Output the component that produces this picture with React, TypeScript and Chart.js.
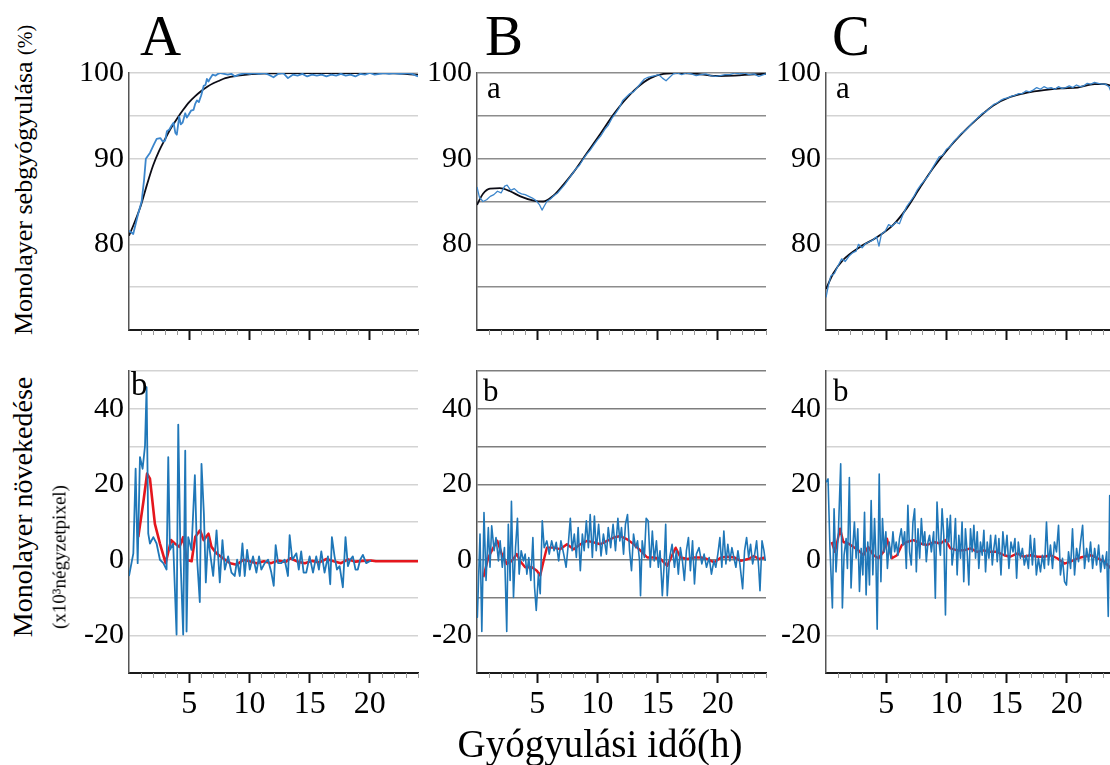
import React, { useEffect, useRef } from 'react';
import { Chart, registerables } from 'chart.js';

Chart.register(...registerables);

const SERIF = '"Liberation Serif", "Times New Roman", serif';

// ---------- axes ----------
const X_MIN = 0;
const X_MAX = 24;
const X_TICK_LABELS = [5, 10, 15, 20];
const X_MINOR_TICKS = [1, 2, 3, 4, 6, 7, 8, 9, 11, 12, 13, 14, 16, 17, 18, 19, 21, 22, 23, 24];
const TOP_Y_LABELS = [80, 90, 100];
const BOTTOM_Y_LABELS = [40, 20, 0, -20];

// ---------- A: top (wound closure %) ----------
const A_TOP_BLUE: [number, number][] = [
  [0, 81.6], [0.35, 81.2], [0.75, 83.5], [1.05, 85.0], [1.25, 87.5], [1.4, 90.0], [1.75, 90.7], [2.05, 91.6],
  [2.3, 92.3], [2.6, 92.4], [2.8, 92.0], [3.0, 92.1], [3.15, 93.2], [3.35, 93.4], [3.55, 93.9], [3.7, 94.2],
  [3.85, 93.0], [3.97, 92.8], [4.17, 94.9], [4.3, 94.0], [4.45, 94.2], [4.67, 95.3], [4.8, 94.8], [4.94, 95.1],
  [5.15, 95.6], [5.36, 95.7], [5.5, 96.4], [5.64, 96.8], [5.8, 96.6], [6.0, 97.4], [6.2, 98.5], [6.35, 98.6],
  [6.47, 99.3], [6.6, 99.0], [6.75, 99.4], [6.94, 99.8], [7.2, 99.7], [7.4, 99.9], [7.6, 100], [7.9, 99.9],
  [8.2, 99.8], [8.5, 99.9], [8.8, 99.6], [9.1, 99.8], [9.4, 99.9], [9.7, 100], [10.0, 99.9], [10.4, 100],
  [10.8, 99.9], [11.2, 100], [11.6, 99.8], [12.0, 99.5], [12.4, 99.9], [12.8, 100], [13.2, 99.4], [13.6, 99.8],
  [14.0, 99.7], [14.4, 99.9], [14.8, 99.6], [15.2, 99.8], [15.6, 99.7], [16.0, 99.8], [16.4, 99.6], [16.8, 99.8],
  [17.2, 99.7], [17.6, 99.9], [18.0, 99.7], [18.4, 99.8], [18.8, 99.6], [19.2, 99.9], [19.6, 99.8], [20.0, 100],
  [20.4, 99.8], [20.8, 99.9], [21.2, 100], [21.6, 99.9], [22.0, 100], [22.5, 99.9], [23.0, 100], [23.5, 99.9], [24.0, 99.6],
];
const A_TOP_FIT: [number, number][] = [
  [0, 81.0], [0.5, 82.7], [1, 84.6], [1.5, 87.0], [2, 89.2], [2.5, 90.9], [3, 92.3], [3.5, 93.6], [4, 94.7],
  [4.5, 95.7], [5, 96.6], [5.5, 97.3], [6, 97.9], [6.5, 98.4], [7, 98.8], [7.5, 99.1], [8, 99.4], [9, 99.7],
  [10, 99.85], [11, 99.92], [12, 99.95], [14, 99.98], [16, 100], [20, 100], [22, 99.95], [24, 99.8],
];

// ---------- A: bottom (growth) ----------
const A_BOTTOM_BLUE: [number, number][] = [
  [0, -4.3], [0.36, 1.7], [0.55, 24.1], [0.72, -0.9], [0.91, 27.2], [1.13, 24.1], [1.33, 30.2], [1.46, 45.7],
  [1.6, 6.9], [1.74, 4.3], [2.02, 6.0], [2.29, 4.3], [2.57, 0], [2.85, -0.9], [3.12, -2.6], [3.26, 27.2],
  [3.4, 2.6], [3.67, 4.3], [3.95, -19.8], [4.09, 35.8], [4.28, 0], [4.5, -19.8], [4.67, 28.9], [4.78, -19],
  [4.92, 6], [5.19, 2.6], [5.47, 22.4], [5.66, 0], [5.88, -11.2], [6.02, 25.4], [6.22, 12.1], [6.38, -6],
  [6.57, 6], [6.77, 0.9], [6.99, -4.3], [7.27, 7.8], [7.54, -6], [7.76, 5.2], [7.96, -2.6], [8.23, 0.9],
  [8.51, -3.4], [8.78, -4.3], [8.98, 0], [9.2, -4.3], [9.42, 4.3], [9.61, -4.3], [9.81, 2.6], [10.03, -2.6],
  [10.3, 0.9], [10.58, -3.4], [10.8, 0.9], [10.99, -2.6], [11.27, -0.9], [11.55, 0], [11.82, -3.4], [12.02, -6.9],
  [12.18, 3.9], [12.38, -0.9], [12.65, -0.9], [12.93, 0], [13.2, -4.3], [13.34, 6.5], [13.56, 0], [13.9, 1.7],
  [14.1, -2.6], [14.3, 2.2], [14.5, -3.4], [14.72, -3.4], [15.0, 0.9], [15.28, -3.4], [15.55, 0.9], [15.77, -2.6],
  [15.97, 2.2], [16.24, -3.4], [16.52, 0.9], [16.71, -6.5], [16.85, 6], [17.07, 0.9], [17.27, -2.6], [17.49, -1.7],
  [17.76, -7.3], [17.98, 6], [18.18, -1.7], [18.37, 0], [18.59, 0.9], [18.81, -2.6], [19.0, -2.6], [19.2, 0],
  [19.42, 1.3], [19.7, -0.9], [20.1, -0.2],
];
const A_BOTTOM_RED: [number, number][] = [
  [0.77, 6.0], [1.2, 15.5], [1.5, 22.8], [1.74, 21.5], [2.15, 9.5], [2.57, 4.3], [3.04, -0.9], [3.5, 5.2],
  [3.8, 4.3], [4.2, 3.4], [4.5, 6.0], [4.78, 0], [5.2, -0.4], [5.5, 6.0], [5.9, 7.8], [6.2, 5.2], [6.6, 6.9],
  [6.85, 3.4], [7.26, 1.7], [7.8, 0.4], [8.4, -0.9], [8.95, -1.3], [9.5, 0], [10.0, -0.4], [10.6, -0.9],
  [11.2, -0.4], [11.8, -0.9], [12.4, -0.2], [13.0, -0.6], [13.4, 0.4], [14.0, -0.5], [14.6, -0.9], [15.2, -0.3],
  [15.8, -0.7], [16.4, 0.2], [17.0, -0.4], [17.6, -0.9], [18.2, 0.1], [18.8, -0.5], [19.4, -0.3], [20.1, -0.2],
  [20.5, -0.4], [24.0, -0.4],
];

// ---------- B: top ----------
const B_TOP_BLUE: [number, number][] = [
  [0, 86.7], [0.2, 85.5], [0.5, 85.0], [0.8, 85.2], [1.1, 85.6], [1.4, 85.8], [1.7, 86.2], [2.0, 86.0],
  [2.3, 86.8], [2.5, 86.9], [2.8, 86.3], [3.1, 86.5], [3.4, 86.1], [3.7, 85.9], [4.0, 85.8], [4.3, 85.6],
  [4.6, 85.4], [4.9, 85.1], [5.2, 84.6], [5.4, 84.0], [5.6, 84.5], [5.8, 85.0], [6.1, 85.3], [6.4, 85.7],
  [6.7, 86.0], [7.0, 86.5], [7.3, 87.0], [7.6, 87.6], [7.9, 88.2], [8.2, 88.8], [8.5, 89.2], [8.8, 89.9],
  [9.1, 90.5], [9.4, 91.0], [9.7, 91.6], [10.0, 92.2], [10.3, 92.7], [10.6, 93.4], [10.9, 93.9], [11.2, 94.7],
  [11.5, 95.3], [11.8, 95.9], [12.1, 96.8], [12.4, 97.2], [12.7, 97.6], [13.0, 97.8], [13.3, 98.3], [13.6, 98.8],
  [13.9, 99.3], [14.2, 99.5], [14.5, 99.6], [14.8, 99.7], [15.1, 99.8], [15.4, 99.4], [15.7, 99.1], [16.0, 99.5],
  [16.3, 99.9], [16.6, 100], [17.0, 99.8], [17.4, 100], [17.8, 99.9], [18.2, 99.7], [18.6, 99.8], [19.0, 99.9],
  [19.4, 99.7], [19.8, 99.6], [20.2, 99.7], [20.6, 99.8], [21.0, 99.8], [21.4, 100], [21.8, 99.9], [22.2, 100],
  [22.6, 99.8], [23.0, 99.9], [23.4, 99.6], [23.8, 99.8], [24, 99.9],
];
const B_TOP_FIT: [number, number][] = [
  [0, 84.6], [0.5, 85.9], [1.08, 86.5], [1.9, 86.55], [2.75, 86.2], [3.6, 85.6], [4.7, 85.1], [5.5, 85.0],
  [6.36, 85.7], [7.2, 87.0], [8.0, 88.4], [9.1, 90.6], [10.25, 92.9], [11.36, 95.2], [12.2, 96.7], [13.3, 98.3],
  [14.4, 99.4], [15.5, 99.9], [16.9, 100], [18.6, 99.85], [20, 99.65], [21.4, 99.7], [23, 99.85], [24, 99.9],
];

// ---------- B: bottom ----------
const B_BOTTOM_BLUE: [number, number][] = [
  [0, -14], [0.03, -15.2], [0.25, 6.8], [0.4, -19], [0.58, 12.5], [0.75, -5.5], [0.94, 8.5], [1.08, -2],
  [1.22, 9], [1.42, 2.4], [1.58, 5.9], [1.78, -0.3], [1.92, 5], [2.1, -2], [2.28, 3.2], [2.47, -19],
  [2.6, 9.4], [2.75, -5.5], [2.86, 15.5], [3.03, -10], [3.2, 3.2], [3.36, 11], [3.5, -3.8], [3.67, 2.4],
  [3.86, -0.3], [4.0, 1.5], [4.14, -3.8], [4.3, 0.6], [4.47, -5.5], [4.64, 5.9], [4.78, -7.3], [4.92, -13.4],
  [5.1, -3.8], [5.25, -9], [5.42, 10.3], [5.58, 3.2], [5.8, 5], [6.0, 1.5], [6.2, 5], [6.4, 2.4],
  [6.58, 4.6], [6.78, -0.3], [6.97, 5], [7.2, 1.5], [7.4, -2], [7.58, 4.1], [7.75, 11], [7.9, 2.4],
  [8.08, 6.8], [8.25, 0.6], [8.4, 8.5], [8.58, -2.9], [8.75, 6.8], [8.9, 2.4], [9.08, 10.3], [9.25, 3.2],
  [9.4, 12], [9.58, 0.6], [9.75, 11.6], [9.9, 2.4], [10.1, 9.4], [10.3, 1], [10.5, 6.8], [10.75, 1.5],
  [10.9, 8.5], [11.1, 3.2], [11.3, 9.4], [11.5, 2.4], [11.7, 11], [11.86, 5], [12.0, 8.5], [12.17, 1.5],
  [12.33, 9.4], [12.5, 12], [12.67, 2.4], [12.83, -2.9], [13.0, 6.8], [13.17, 3.2], [13.33, 5], [13.5, -0.3],
  [13.58, -9.5], [13.72, 5], [13.9, 0.6], [14.05, 11], [14.22, 10.3], [14.39, -2], [14.56, 7.6], [14.72, -0.3],
  [14.9, 5], [15.06, -2], [15.2, 2.4], [15.39, -9.5], [15.53, -2], [15.67, 9.4], [15.8, -9.5], [16.0, 0.6],
  [16.2, 4.1], [16.4, -2], [16.56, 2.4], [16.72, -3.8], [16.89, 3.2], [17.06, -0.3], [17.22, -5.5], [17.39, 2.4],
  [17.56, 5.9], [17.72, -2.9], [17.9, 5], [18.06, -6.4], [18.22, 1.5], [18.44, 3.2], [18.67, -1.1], [18.86, 1.5],
  [19.06, -2], [19.28, 0.6], [19.47, -3.8], [19.67, -0.3], [19.83, -2], [20.0, 1.5], [20.17, 5.9], [20.33, -2],
  [20.5, 7.6], [20.67, -1.1], [20.83, 4.1], [21.0, -0.3], [21.17, 3.2], [21.33, 0.6], [21.5, -2], [21.67, 2.4],
  [21.83, -1.1], [22.06, -7.7], [22.22, 2.4], [22.39, 5.9], [22.56, 0.6], [22.72, 4.1], [22.89, -1.1], [23.06, 1.5],
  [23.22, 5], [23.39, -2], [23.5, -8.2], [23.67, 5], [23.83, 2.4], [23.94, -0.3],
];
const B_BOTTOM_RED: [number, number][] = [
  [0.53, -4.6], [0.94, 0.6], [1.36, 3.2], [1.69, 5], [2.06, 1.5], [2.47, -1.1], [2.89, -0.3], [3.3, 1.5],
  [3.58, -0.3], [4.0, -2], [4.56, -2], [4.97, -2.9], [5.25, -4.2], [5.53, -0.3], [5.8, 3.2], [6.36, 3.2],
  [6.9, 2.8], [7.47, 4.1], [8.03, 2.8], [8.58, 4.1], [9.14, 5], [9.7, 4.6], [10.25, 4.1], [10.8, 5],
  [11.36, 5.9], [11.9, 6.3], [12.47, 5.4], [13.03, 4.1], [13.58, 2.4], [14.14, 0.6], [14.7, 0.6], [15.25, 0.2],
  [15.8, -1.6], [16.5, 3.2], [16.9, 0.6], [17.5, 0.2], [18.0, 0.6], [18.6, 0.6], [19.1, 0.2], [19.7, -0.7],
  [20.25, 0.6], [20.8, 0.8], [21.4, 0.6], [21.9, -0.3], [22.5, 0.2], [23.0, 1.0], [23.4, 0.2], [23.9, 0.6],
];

// ---------- C: top ----------
const C_TOP_BLUE: [number, number][] = [
  [0, 73.8], [0.2, 75.2], [0.4, 76.3], [0.7, 76.6], [1.0, 77.5], [1.3, 78.3], [1.6, 78.0], [1.9, 78.6],
  [2.2, 79.0], [2.5, 79.2], [2.7, 80.0], [3.0, 79.6], [3.3, 80.1], [3.6, 80.3], [3.9, 80.5], [4.2, 80.9],
  [4.4, 79.8], [4.6, 81.2], [4.9, 81.5], [5.2, 82.3], [5.5, 82.1], [5.8, 82.6], [6.1, 82.4], [6.4, 83.5],
  [6.7, 84.4], [7.0, 85.0], [7.3, 85.6], [7.6, 86.4], [7.9, 87.0], [8.2, 87.5], [8.5, 88.0], [8.8, 88.8],
  [9.1, 89.5], [9.4, 90.2], [9.7, 90.4], [10.0, 91.1], [10.3, 91.4], [10.6, 92.0], [10.9, 92.4], [11.2, 92.9],
  [11.5, 93.2], [11.8, 93.6], [12.1, 94.1], [12.4, 94.5], [12.7, 94.9], [13.0, 95.3], [13.3, 95.5], [13.6, 95.9],
  [13.9, 96.3], [14.2, 96.5], [14.5, 96.8], [14.8, 97.0], [15.1, 97.1], [15.4, 97.3], [15.7, 97.4], [16.0, 97.6],
  [16.3, 97.6], [16.6, 97.9], [16.9, 97.8], [17.2, 98.0], [17.5, 98.3], [17.8, 98.1], [18.1, 98.4], [18.4, 98.2],
  [18.7, 98.3], [19.0, 98.1], [19.3, 98.4], [19.6, 98.2], [19.9, 98.3], [20.2, 98.5], [20.5, 98.3], [20.8, 98.6],
  [21.1, 98.4], [21.4, 98.5], [21.7, 98.8], [22.0, 98.7], [22.3, 98.9], [22.6, 98.8], [22.9, 98.7], [23.2, 98.7],
  [23.5, 98.4], [23.7, 97.7],
];
const C_TOP_FIT: [number, number][] = [
  [0, 74.8], [0.6, 76.6], [1.44, 78.2], [2.83, 79.7], [4.2, 80.8], [5.6, 82.3], [6.7, 84.2], [7.8, 86.6],
  [8.9, 88.9], [10.05, 91.0], [11.2, 92.8], [12.6, 94.7], [13.9, 96.2], [15.3, 97.2], [16.7, 97.7], [18.1, 98.0],
  [19.5, 98.2], [20.9, 98.3], [22.3, 98.7], [23.1, 98.7], [23.7, 98.5],
];

// ---------- C: bottom ----------
const C_BOTTOM_BLUE: [number, number][] = [
  [0, 20.5], [0.17, 21.4], [0.33, 3], [0.53, -12.8], [0.67, 13.5], [0.83, -3.2], [1.03, 7.4], [1.22, 25.4],
  [1.36, -12.8], [1.5, 1.2], [1.67, 5.6], [1.78, -2.3], [1.94, 21.8], [2.08, -7.5], [2.22, 3], [2.36, 10],
  [2.5, 0.4], [2.64, 8.2], [2.78, -8.4], [2.92, 3], [3.06, -4], [3.2, 12.6], [3.33, -9.3], [3.47, 4.7],
  [3.61, -6.7], [3.75, 15.7], [3.89, -4], [4.03, 10.9], [4.14, 1.2], [4.25, -18.4], [4.42, 22.7], [4.56, -5.8],
  [4.69, 10.9], [4.83, 2.1], [4.97, 7.4], [5.1, -2.3], [5.25, 4.7], [5.39, 0.4], [5.56, 7.4], [5.7, 2.1],
  [5.83, 4.7], [5.97, 1.2], [6.1, 5.6], [6.25, 8.2], [6.39, 3.9], [6.53, 7.4], [6.67, -2.3], [6.8, 14.4],
  [6.94, 2.1], [7.08, -1.4], [7.22, 10], [7.36, 13.5], [7.5, -3.2], [7.64, 8.2], [7.78, 0.4], [7.92, 10.9],
  [8.06, 3.9], [8.2, 7.4], [8.33, -0.5], [8.47, 4.7], [8.6, 6.5], [8.75, 2.1], [8.94, 7.4], [9.08, -10.2],
  [9.22, 15.3], [9.36, 5.6], [9.5, 1.2], [9.64, 13.5], [9.78, 6.5], [9.92, -14.6], [10.06, 10.9], [10.2, 4.7],
  [10.33, 11.8], [10.47, -1.4], [10.6, 2.1], [10.75, 10.9], [10.89, -4], [11.03, 6.5], [11.17, 0.4], [11.3, 10],
  [11.44, -5.8], [11.58, 8.2], [11.72, 2.1], [11.86, -6.7], [12.0, 8.2], [12.14, 2.1], [12.28, 9.1], [12.42, 0.4],
  [12.56, 7.4], [12.69, -2.3], [12.83, 4.7], [12.97, 1.2], [13.11, 7.8], [13.25, -3.2], [13.39, 4.7], [13.53, 0.4],
  [13.67, 6.5], [13.81, -1.4], [13.94, 3], [14.08, 6.5], [14.22, -0.5], [14.36, 5.6], [14.53, -4], [14.69, 7.4],
  [14.86, 1.2], [15.03, 6.5], [15.19, -2.3], [15.36, 4.7], [15.53, 2.1], [15.69, 5.6], [15.83, -4.9], [15.97, 4.7],
  [16.14, 0.4], [16.31, 3], [16.47, -1.4], [16.64, 1.2], [16.81, -2.3], [16.97, 6.5], [17.14, -1.4], [17.31, 5.6],
  [17.47, -4], [17.64, 0.4], [17.81, -3.2], [17.97, 1.2], [18.14, -2.3], [18.31, 10], [18.47, -1.4], [18.64, 3.9],
  [18.81, -2.3], [18.97, 4.7], [19.14, 2.1], [19.31, 9.1], [19.47, -4], [19.64, 0.4], [19.81, -5.8], [19.97, -6.7],
  [20.14, 2.1], [20.31, -2.3], [20.47, 8.2], [20.64, -4], [20.81, 3], [20.97, -0.5], [21.14, 4.7], [21.31, 9.1],
  [21.47, -2.3], [21.64, 3], [21.81, -0.5], [21.97, 4.7], [22.14, -2.3], [22.31, 3], [22.47, -1.4], [22.64, 3.9],
  [22.81, -3.2], [22.97, 1.2], [23.14, -2.3], [23.31, 2.1], [23.44, -15], [23.56, 17], [23.67, 4.7],
];
const C_BOTTOM_RED: [number, number][] = [
  [0.47, 4.7], [0.75, 2.1], [1.17, 8.2], [1.44, 4.7], [1.86, 4.3], [2.28, 3.4], [2.7, 2.5], [3.1, 1.2],
  [3.5, 3.4], [3.94, 1.2], [4.36, 0.4], [4.78, 2.1], [5.06, 5.6], [5.47, 0.4], [5.9, 1.2], [6.3, 3.9],
  [6.7, 4.7], [7.28, 5.2], [7.83, 4.3], [8.4, 3.9], [8.94, 4.7], [9.5, 4.3], [9.92, 5.2], [10.33, 3],
  [10.9, 2.5], [11.44, 2.5], [12.0, 3], [12.56, 2.1], [13.1, 2.5], [13.67, 2.1], [14.2, 2.1], [14.8, 1.2],
  [15.3, 0.8], [15.9, 1.7], [16.4, 0.8], [17.0, 1.2], [17.56, 0.8], [18.1, 0.8], [18.67, 1.2], [19.2, 0.4],
  [19.8, -1], [20.3, -0.5], [20.9, 0.4], [21.4, 0.8], [22.0, 1.2], [22.56, 0.4], [23.1, -0.5], [23.67, -2.3],
];

// ---------- colours ----------
const BLUE = '#1f77b8';
const BLUE_TOP = '#3c86cc';
const RED = '#e5161d';
const BLACK = '#0c0c16';

type Series = { pts: [number, number][]; color: string; width: number; smooth?: boolean };
type PanelDef = {
  key: string;
  areaLeft: number;
  areaTop: number;
  areaH: number;
  yMin: number;
  yMax: number;
  yStep: number;
  yLabels: number[];
  grid: string;
  xLabels: boolean;
  series: Series[];
};

const AREA_W = 289;
const YW = 70;
const PT = 20;
const PR = 12;

const minorTicksPlugin = {
  id: 'minorTicks',
  afterDraw(chart: any) {
    const sx = chart.scales.x;
    const ctx = chart.ctx;
    ctx.save();
    ctx.strokeStyle = '#9a9a9a';
    ctx.lineWidth = 1;
    for (const v of X_MINOR_TICKS) {
      const px = Math.round(sx.getPixelForValue(v)) + 0.5;
      ctx.beginPath();
      ctx.moveTo(px, sx.top);
      ctx.lineTo(px, sx.top + 5);
      ctx.stroke();
    }
    ctx.restore();
  },
};

const PANELS: PanelDef[] = [
  {
    key: 'At', areaLeft: 129, areaTop: 70, areaH: 261, yMin: 70, yMax: 100, yStep: 5, yLabels: TOP_Y_LABELS,
    grid: '#d3d3d3', xLabels: false,
    series: [
      { pts: A_TOP_BLUE, color: BLUE_TOP, width: 1.8 },
      { pts: A_TOP_FIT, color: BLACK, width: 1.8, smooth: true },
    ],
  },
  {
    key: 'Ab', areaLeft: 129, areaTop: 368, areaH: 305, yMin: -30, yMax: 50, yStep: 10, yLabels: BOTTOM_Y_LABELS,
    grid: '#d3d3d3', xLabels: true,
    series: [
      { pts: A_BOTTOM_BLUE, color: BLUE, width: 1.8 },
      { pts: A_BOTTOM_RED, color: RED, width: 2.6 },
    ],
  },
  {
    key: 'Bt', areaLeft: 477, areaTop: 70, areaH: 261, yMin: 70, yMax: 100, yStep: 5, yLabels: TOP_Y_LABELS,
    grid: '#8c8c8c', xLabels: false,
    series: [
      { pts: B_TOP_BLUE, color: BLUE_TOP, width: 1.3 },
      { pts: B_TOP_FIT, color: BLACK, width: 1.8, smooth: true },
    ],
  },
  {
    key: 'Bb', areaLeft: 477, areaTop: 368, areaH: 305, yMin: -30, yMax: 50, yStep: 10, yLabels: BOTTOM_Y_LABELS,
    grid: '#7e7e7e', xLabels: true,
    series: [
      { pts: B_BOTTOM_BLUE, color: BLUE, width: 1.6 },
      { pts: B_BOTTOM_RED, color: RED, width: 2.4 },
    ],
  },
  {
    key: 'Ct', areaLeft: 826, areaTop: 70, areaH: 261, yMin: 70, yMax: 100, yStep: 5, yLabels: TOP_Y_LABELS,
    grid: '#d3d3d3', xLabels: false,
    series: [
      { pts: C_TOP_BLUE, color: BLUE_TOP, width: 1.3 },
      { pts: C_TOP_FIT, color: BLACK, width: 1.8, smooth: true },
    ],
  },
  {
    key: 'Cb', areaLeft: 826, areaTop: 368, areaH: 305, yMin: -30, yMax: 50, yStep: 10, yLabels: BOTTOM_Y_LABELS,
    grid: '#d3d3d3', xLabels: true,
    series: [
      { pts: C_BOTTOM_BLUE, color: BLUE, width: 1.6 },
      { pts: C_BOTTOM_RED, color: RED, width: 2.4 },
    ],
  },
];

function Panel({ def }: { def: PanelDef }) {
  const ref = useRef<HTMLCanvasElement>(null);
  const xh = def.xLabels ? 62 : 22;
  const cw = YW + AREA_W + PR;
  const ch = PT + def.areaH + xh;

  useEffect(() => {
    if (!ref.current) return;
    const chart = new Chart(ref.current, {
      type: 'line',
      data: {
        datasets: def.series.map((s) => ({
          data: s.pts.map(([x, y]) => ({ x, y })),
          borderColor: s.color,
          backgroundColor: s.color,
          borderWidth: s.width,
          pointRadius: 0,
          fill: false,
          tension: 0,
          cubicInterpolationMode: s.smooth ? 'monotone' : 'default',
          borderJoinStyle: 'round',
        })),
      } as any,
      options: {
        animation: false,
        responsive: false,
        maintainAspectRatio: false,
        events: [],
        layout: { padding: { top: PT, right: PR, left: 0, bottom: 0 } },
        plugins: { legend: { display: false }, tooltip: { enabled: false } },
        scales: {
          x: {
            type: 'linear',
            min: X_MIN,
            max: X_MAX,
            ticks: {
              stepSize: 1,
              autoSkip: false,
              maxRotation: 0,
              minRotation: 0,
              padding: 2,
              color: '#000',
              font: { family: SERIF, size: 32 },
              callback: (v: any) => (def.xLabels && X_TICK_LABELS.includes(Number(v)) ? String(v) : ''),
            },
            grid: {
              drawOnChartArea: false,
              drawTicks: true,
              tickLength: 10,
              color: '#222',
              tickColor: (c: any) => {
                const v = c.tick ? c.tick.value : 0;
                return v > 0 && v % 5 === 0 ? '#111' : 'rgba(0,0,0,0)';
              },
              tickWidth: 2,
            },
            border: { display: true, color: '#1a1a1a', width: 2 },
            afterFit: (s: any) => {
              s.height = xh;
            },
          },
          y: {
            type: 'linear',
            min: def.yMin,
            max: def.yMax,
            ticks: {
              stepSize: def.yStep,
              autoSkip: false,
              padding: 5,
              color: '#000',
              font: { family: SERIF, size: 30 },
              callback: (v: any) => (def.yLabels.includes(Number(v)) ? String(v) : ''),
            },
            grid: { color: def.grid, lineWidth: 1.5, drawTicks: false },
            border: { display: true, color: '#555', width: 1.5 },
            afterFit: (s: any) => {
              s.width = YW;
            },
          },
        },
      } as any,
      plugins: [minorTicksPlugin],
    });
    return () => chart.destroy();
  }, []);

  return (
    <canvas
      ref={ref}
      width={cw}
      height={ch}
      style={{ position: 'absolute', left: def.areaLeft - YW, top: def.areaTop - PT, width: cw, height: ch }}
    />
  );
}

const txt = (size: number): React.CSSProperties => ({
  position: 'absolute',
  fontFamily: SERIF,
  fontSize: size,
  lineHeight: 1,
  color: '#000',
  whiteSpace: 'nowrap',
});

const rot = (cx: number, cy: number, size: number): React.CSSProperties => ({
  ...txt(size),
  left: cx,
  top: cy,
  transform: 'translate(-50%, -50%) rotate(-90deg)',
});

export default function App() {
  return (
    <div
      style={{
        position: 'fixed',
        left: 0,
        top: 0,
        width: 1110,
        height: 765,
        overflow: 'hidden',
        background: '#fff',
      }}
    >
      {PANELS.map((p) => (
        <Panel key={p.key} def={p} />
      ))}

      <div style={{ ...txt(57), left: 140, top: 7 }}>A</div>
      <div style={{ ...txt(57), left: 485, top: 7 }}>B</div>
      <div style={{ ...txt(57), left: 832, top: 7 }}>C</div>

      <div style={{ ...txt(31), left: 487, top: 72 }}>a</div>
      <div style={{ ...txt(31), left: 836, top: 72 }}>a</div>
      <div style={{ ...txt(33), left: 131, top: 368 }}>b</div>
      <div style={{ ...txt(31), left: 483, top: 375 }}>b</div>
      <div style={{ ...txt(31), left: 833, top: 375 }}>b</div>

      <div style={rot(24, 180, 26)}>
        Monolayer sebgyógyulása <span style={{ fontSize: 20 }}>(%)</span>
      </div>
      <div style={rot(23, 507, 28)}>Monolayer növekedése</div>
      <div style={rot(59, 557, 19)}>(x10³négyzetpixel)</div>

      <div style={{ ...txt(39), left: 600, top: 724, transform: 'translateX(-50%)' }}>Gyógyulási idő(h)</div>
    </div>
  );
}
